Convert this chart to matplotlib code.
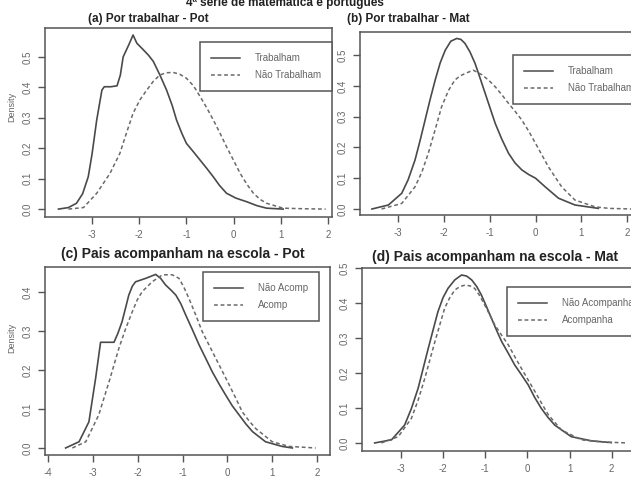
import matplotlib
matplotlib.use("Agg")
from matplotlib import pyplot as plt
from matplotlib.lines import Line2D

plt.rcParams['font.family'] = ['Liberation Sans', 'DejaVu Sans']
plt.rcParams['axes.unicode_minus'] = False

W, H = 631, 482

# densidades (x, densidade)
# (a) Por trabalhar - Pot
a_trab_x = [-3.71, -3.50, -3.33, -3.20, -3.08, -3.00, -2.90, -2.79, -2.74, -2.60, -2.47, -2.40,
            -2.34, -2.22, -2.13, -2.05, -1.91, -1.80, -1.70, -1.56, -1.42, -1.30, -1.21, -1.10,
            -1.00, -0.85, -0.71, -0.57, -0.43, -0.30, -0.15, 0.05, 0.28, 0.50, 0.70, 1.05]
a_trab_y = [0.0, 0.005, 0.019, 0.05, 0.106, 0.18, 0.293, 0.391, 0.402, 0.402, 0.405, 0.44,
            0.50, 0.54, 0.572, 0.545, 0.523, 0.505, 0.485, 0.44, 0.391, 0.34, 0.293, 0.25,
            0.216, 0.188, 0.161, 0.134, 0.106, 0.078, 0.052, 0.036, 0.024, 0.011, 0.003, 0.0]
a_nao_x = [-3.50, -3.18, -2.90, -2.62, -2.41, -2.27, -2.13, -1.98, -1.84, -1.70, -1.56, -1.42,
           -1.28, -1.14, -1.00, -0.85, -0.71, -0.57, -0.43, -0.29, -0.15, 0.00, 0.14, 0.28,
           0.42, 0.56, 0.70, 1.05, 1.50, 1.95]
a_nao_y = [0.0, 0.005, 0.052, 0.117, 0.183, 0.25, 0.315, 0.36, 0.391, 0.42, 0.441, 0.448,
           0.449, 0.443, 0.43, 0.405, 0.37, 0.333, 0.293, 0.25, 0.205, 0.16, 0.117, 0.082,
           0.052, 0.032, 0.019, 0.003, 0.001, 0.0]

# (b) Por trabalhar - Mat
b_trab_x = [-3.57, -3.21, -2.92, -2.78, -2.63, -2.52, -2.41, -2.30, -2.19, -2.08, -1.97, -1.85,
            -1.72, -1.63, -1.54, -1.43, -1.32, -1.21, -1.10, -0.99, -0.88, -0.74, -0.59, -0.45,
            -0.30, -0.15, 0.0, 0.21, 0.50, 0.86, 1.37]
b_trab_y = [0.0, 0.013, 0.051, 0.095, 0.159, 0.222, 0.289, 0.356, 0.419, 0.475, 0.516, 0.545,
            0.554, 0.551, 0.538, 0.51, 0.473, 0.425, 0.376, 0.327, 0.278, 0.228, 0.181, 0.15,
            0.127, 0.112, 0.10, 0.072, 0.035, 0.013, 0.002]
b_nao_x = [-3.36, -2.92, -2.63, -2.48, -2.34, -2.19, -2.05, -1.90, -1.76, -1.65, -1.54, -1.36,
           -1.17, -1.02, -0.88, -0.74, -0.59, -0.45, -0.30, -0.15, 0.0, 0.14, 0.28, 0.43,
           0.57, 0.86, 1.30, 1.60, 2.10]
b_nao_y = [0.0, 0.018, 0.072, 0.12, 0.181, 0.258, 0.332, 0.385, 0.419, 0.432, 0.44, 0.451,
           0.436, 0.418, 0.397, 0.372, 0.343, 0.318, 0.289, 0.253, 0.213, 0.175, 0.137, 0.103,
           0.072, 0.029, 0.007, 0.002, 0.0]

# (c) Pais acompanham na escola - Pot
c_nao_x = [-3.61, -3.31, -3.09, -2.94, -2.83, -2.53, -2.44, -2.35, -2.27, -2.20, -2.12, -2.05,
           -1.82, -1.60, -1.49, -1.38, -1.26, -1.15, -1.04, -0.93, -0.78, -0.63, -0.48, -0.34,
           -0.19, -0.04, 0.11, 0.26, 0.41, 0.56, 0.85, 1.22, 1.45]
c_nao_y = [0.0, 0.016, 0.067, 0.179, 0.271, 0.271, 0.295, 0.324, 0.36, 0.392, 0.415, 0.426,
           0.435, 0.445, 0.435, 0.418, 0.405, 0.392, 0.37, 0.341, 0.303, 0.264, 0.229, 0.196,
           0.165, 0.136, 0.108, 0.085, 0.062, 0.042, 0.016, 0.004, 0.0]
c_acomp_x = [-3.46, -3.16, -2.87, -2.64, -2.42, -2.27, -2.12, -2.01, -1.90, -1.68, -1.45, -1.23,
             -1.08, -0.97, -0.86, -0.71, -0.56, -0.41, -0.26, -0.11, 0.04, 0.19, 0.33, 0.48,
             0.63, 1.00, 1.38, 1.97]
c_acomp_y = [0.0, 0.016, 0.085, 0.17, 0.256, 0.306, 0.35, 0.38, 0.401, 0.426, 0.444, 0.444,
             0.435, 0.412, 0.384, 0.342, 0.298, 0.264, 0.23, 0.196, 0.162, 0.127, 0.093, 0.07,
             0.050, 0.016, 0.004, 0.0]

# (d) Pais acompanham na escola - Mat
d_nao_x = [-3.62, -3.22, -2.91, -2.75, -2.59, -2.47, -2.35, -2.23, -2.12, -2.00, -1.88, -1.72,
           -1.56, -1.44, -1.32, -1.20, -1.09, -0.97, -0.85, -0.73, -0.61, -0.45, -0.30, -0.14,
           0.02, 0.17, 0.33, 0.49, 0.65, 1.04, 1.52, 1.99]
d_nao_y = [0.0, 0.009, 0.051, 0.098, 0.156, 0.213, 0.27, 0.325, 0.375, 0.415, 0.442, 0.466,
           0.48, 0.477, 0.466, 0.447, 0.423, 0.39, 0.356, 0.322, 0.29, 0.256, 0.223, 0.195,
           0.166, 0.131, 0.099, 0.073, 0.051, 0.018, 0.006, 0.001]
d_acomp_x = [-3.46, -3.06, -2.75, -2.59, -2.43, -2.31, -2.19, -2.07, -1.96, -1.84, -1.72, -1.60,
             -1.48, -1.36, -1.25, -1.13, -1.01, -0.89, -0.77, -0.61, -0.45, -0.30, -0.14, 0.02,
             0.18, 0.34, 0.50, 0.81, 1.28, 1.75, 2.38]
d_acomp_y = [0.0, 0.018, 0.07, 0.122, 0.185, 0.238, 0.29, 0.34, 0.385, 0.415, 0.437, 0.447,
             0.451, 0.449, 0.442, 0.421, 0.394, 0.366, 0.337, 0.308, 0.28, 0.247, 0.213, 0.18,
             0.147, 0.113, 0.08, 0.037, 0.009, 0.003, 0.0]

titulo = "4ª série de matemática e português"
sub_titulos = ["(a) Por trabalhar - Pot", "(b) Por trabalhar - Mat",
               "(c) Pais acompanham na escola - Pot", "(d) Pais acompanham na escola - Mat"]
legendas = [["Trabalham", "Não Trabalham"], ["Trabalham", "Não Trabalham"],
            ["Não Acomp", "Acomp"], ["Não Acompanha", "Acompanha"]]
x_ticks = [[-3, -2, -1, 0, 1, 2], [-3, -2, -1, 0, 1, 2],
           [-4, -3, -2, -1, 0, 1, 2], [-3, -2, -1, 0, 1, 2]]
y_ticks = [[0.0, 0.1, 0.2, 0.3, 0.4, 0.5], [0.0, 0.1, 0.2, 0.3, 0.4, 0.5],
           [0.0, 0.1, 0.2, 0.3, 0.4], [0.0, 0.1, 0.2, 0.3, 0.4, 0.5]]

curvas = [(a_trab_x, a_trab_y, a_nao_x, a_nao_y),
          (b_trab_x, b_trab_y, b_nao_x, b_nao_y),
          (c_nao_x, c_nao_y, c_acomp_x, c_acomp_y),
          (d_nao_x, d_nao_y, d_acomp_x, d_acomp_y)]

# caixas dos paineis em pixels (esq, topo, dir, base) - imagem recortada a direita
caixas = [(45, 28, 332, 217), (360, 32, 641, 215), (45, 267, 330, 455), (362, 268, 637, 451)]
xlims = [(-3.996, 2.085), (-3.83, 2.3), (-4.07, 2.29), (-3.92, 2.6)]
ylims = [(-0.026, 0.595), (-0.0195, 0.575), (-0.018, 0.464), (-0.023, 0.5)]
# legenda: canto superior esquerdo em fracao dos eixos
leg_pos = [(0.54, 0.926), (0.545, 0.874), (0.554, 0.973), (0.527, 0.896)]
tit_pos = [(148, 19), (408, 19), (183, 254), (495, 257)]
tit_size = [8.5, 8.5, 10, 10]

cinza = '#555555'
fig = plt.figure(figsize=(W / 100, H / 100), dpi=100)

for i in range(4):
    l, t, r, b = caixas[i]
    ax = fig.add_axes([l / W, 1 - b / H, (r - l) / W, (b - t) / H])
    x1, y1, x2, y2 = curvas[i]
    ax.plot(x1, y1, color='#4a4a4a', lw=1.2)
    ax.plot(x2, y2, color='#6a6a6a', lw=1.1, dashes=(2.5, 1.8))
    ax.set_xlim(*xlims[i])
    ax.set_ylim(*ylims[i])
    ax.set_xticks(x_ticks[i])
    ax.set_xticklabels([str(v) for v in x_ticks[i]])
    ax.set_yticks(y_ticks[i])
    ax.set_yticklabels(["%.1f" % v for v in y_ticks[i]], rotation=90, va='center')
    ax.tick_params(direction='out', length=5, width=1, color=cinza, labelsize=7,
                   labelcolor='#666666', pad=4)
    for s in ax.spines.values():
        s.set_color(cinza)
        s.set_linewidth(1.1)

    hs = [Line2D([], [], color='#4a4a4a', lw=1.1),
          Line2D([], [], color='#6a6a6a', lw=1.1, dashes=(2.5, 1.8))]
    leg = ax.legend(hs, legendas[i], loc='upper left', bbox_to_anchor=leg_pos[i],
                    fontsize=7, frameon=True, fancybox=False, edgecolor=cinza,
                    framealpha=1, borderpad=1.15, labelspacing=0.7, handlelength=3.0,
                    handletextpad=1.5, borderaxespad=0)
    leg.get_frame().set_linewidth(1.1)
    for txt in leg.get_texts():
        txt.set_color('#666666')

    fig.text(tit_pos[i][0] / W, 1 - tit_pos[i][1] / H, sub_titulos[i], ha='center',
             va='center', fontsize=tit_size[i], fontweight='bold', color='#222222')

fig.text(12 / W, 1 - 107 / H, "Density", rotation=90, ha='center', va='center',
         fontsize=6.5, color='#666666')
fig.text(12 / W, 1 - 338 / H, "Density", rotation=90, ha='center', va='center',
         fontsize=6.5, color='#666666')
fig.text(285 / W, 1 - 6 / H, titulo, ha='center', va='baseline', fontsize=8.5,
         fontweight='bold', color='#222222')

fig.savefig("out.png", dpi=100)
